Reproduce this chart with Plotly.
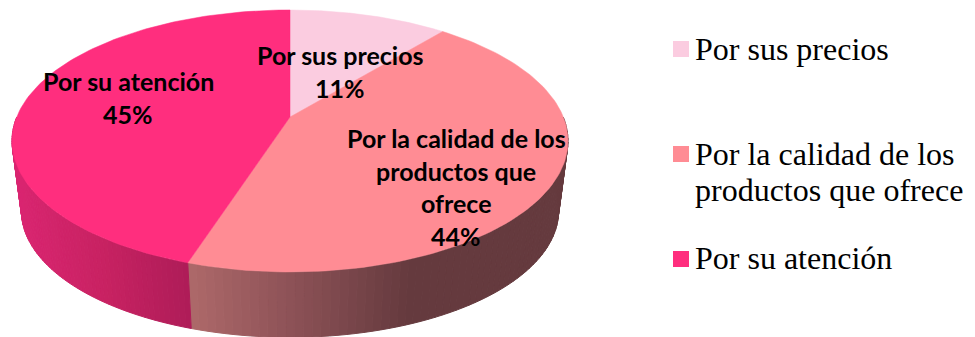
import math
import numpy as np
import plotly.graph_objects as go

# Survey shares, drawn clockwise from twelve o'clock
categories = ["Por sus precios", "Por la calidad de los productos que ofrece", "Por su atención"]
values = [11, 44, 45]
slice_colors = ["#FBCCE0", "#FF8C94", "#FF2E7E"]
label_lines = [
    ["Por sus precios"],
    ["Por la calidad de los", "productos que", "ofrece"],
    ["Por su atención"],
]
legend_lines = [
    ["Por sus precios"],
    ["Por la calidad de los", "productos que ofrece"],
    ["Por su atención"],
]

WIDTH, HEIGHT = 975, 337
CX = 290
TILT = 0.183           # foreshortening of the far side of the disc


def project(theta, half_width, center_y, half_depth):
    """Perspective projection of a point on the rim of a tilted disc."""
    denom = 1 + TILT * np.cos(theta)
    return CX + half_width * np.sin(theta) / denom, center_y - half_depth * np.cos(theta) / denom


TOP = (273.3, 117, 126.6)
BOTTOM = (264.0, 188, 122.0)


def lerp_color(stops, t):
    for (t0, c0), (t1, c1) in zip(stops, stops[1:]):
        if t <= t1:
            f = (t - t0) / (t1 - t0) if t1 > t0 else 0
            f = min(max(f, 0), 1)
            return "rgb({},{},{})".format(*[round(a + (b - a) * f) for a, b in zip(c0, c1)])
    return "rgb({},{},{})".format(*stops[-1][1])


# Wall shading as a function of screen x, one ramp per visible slice
wall_ramps = {
    1: [(180, (176, 107, 107)), (300, (138, 80, 85)), (410, (101, 58, 62)), (570, (101, 58, 62))],
    2: [(10, (218, 37, 113)), (100, (200, 34, 98)), (188, (174, 28, 88))],
}

fractions = np.cumsum([0] + values) / sum(values)
bounds = fractions * 2 * math.pi

fig = go.Figure()

# Side wall: thin shaded strips between the rims of the top and bottom discs
for idx in (1, 2):
    start = max(bounds[idx], math.pi / 2)
    end = min(bounds[idx + 1], 3 * math.pi / 2)
    edges = np.linspace(start, end, 70)
    for a, b in zip(edges[:-1], edges[1:]):
        t = np.array([a, b])
        tx, ty = project(t, *TOP)
        bx, by = project(t, *BOTTOM)
        color = lerp_color(wall_ramps[idx], float(np.mean(tx)))
        fig.add_trace(go.Scatter(
            x=[tx[0], tx[1], bx[1], bx[0], tx[0]],
            y=[ty[0], ty[1], by[1], by[0], ty[0]],
            mode="lines", fill="toself", fillcolor=color,
            line=dict(color=color, width=1), hoverinfo="skip", showlegend=False,
        ))

# Top face of the pie
center = (CX, TOP[1])
for idx, color in enumerate(slice_colors):
    theta = np.linspace(bounds[idx], bounds[idx + 1], 120)
    rx, ry = project(theta, *TOP)
    fig.add_trace(go.Scatter(
        x=[center[0], *rx, center[0]], y=[center[1], *ry, center[1]],
        mode="lines", fill="toself", fillcolor=color,
        line=dict(color=color, width=0.5), hoverinfo="text",
        text=f"{categories[idx]}: {values[idx]}%", showlegend=False,
    ))

# Legend swatches
legend_x = 681
legend_y = [49, 154, 259]
fig.add_trace(go.Scatter(
    x=[legend_x] * 3, y=legend_y, mode="markers",
    marker=dict(symbol="square", size=16, color=slice_colors, line=dict(width=0)),
    hoverinfo="skip", showlegend=False,
))

annotations = []


def add_text(x, y, text, font, anchor):
    annotations.append(dict(x=x, y=y, xref="x", yref="y", text=text, showarrow=False,
                            xanchor=anchor, yanchor="middle", font=font, borderpad=0, borderwidth=0))


# Data labels, one annotation per line for tight control of the leading
label_font = dict(family="Lato", size=25, color="#000000")
label_pos = [(340, 55), (456, 138), (128, 81)]
for idx, (lx, ly) in enumerate(label_pos):
    lines = label_lines[idx] + [f"<b>{values[idx]}%</b>"]
    for n, line in enumerate(lines):
        text = line if line.startswith("<b>") else f"<b>{line}</b>"
        add_text(lx, ly + n * 32.5, text, label_font, "center")

# Legend entries
legend_font = dict(family="Liberation Serif", size=32, color="#000000")
for lines, y0 in zip(legend_lines, [49, 154, 258]):
    for n, line in enumerate(lines):
        add_text(695, y0 + n * 36, line, legend_font, "left")

fig.update_layout(
    width=WIDTH, height=HEIGHT, margin=dict(l=0, r=0, t=0, b=0),
    paper_bgcolor="white", plot_bgcolor="white", showlegend=False,
    xaxis=dict(range=[0, WIDTH], visible=False, fixedrange=True),
    yaxis=dict(range=[HEIGHT, 0], visible=False, fixedrange=True),
    annotations=annotations,
)

fig.write_html("out.html", config={"displayModeBar": False})
